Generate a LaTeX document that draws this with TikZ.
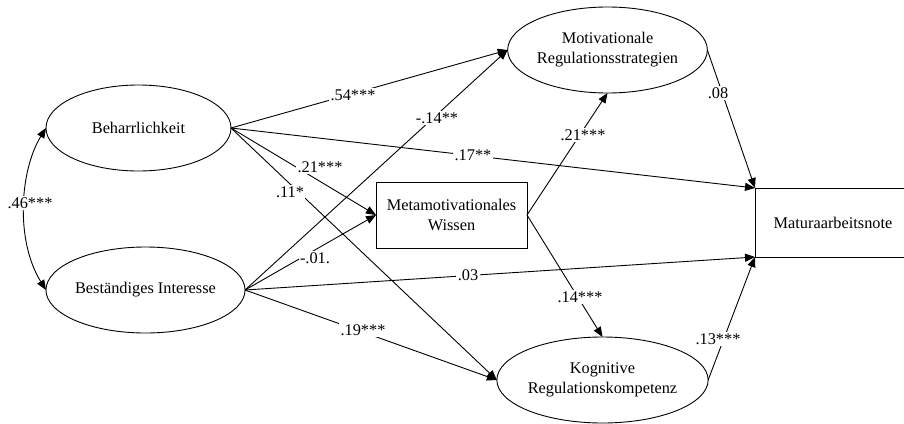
\documentclass[tikz,border=0pt]{standalone}
\usepackage{fontspec}
\setmainfont{Liberation Serif}
\usetikzlibrary{shapes.geometric,arrows.meta}
\begin{document}
\begin{tikzpicture}[x=1pt,y=-1pt,
  every node/.style={font=\fontsize{16.3}{20}\selectfont, outer sep=0pt},
  latent/.style={ellipse, draw, line width=0.9pt, minimum width=186pt, minimum height=86pt, align=center, inner sep=0pt},
  obs/.style={rectangle, draw, line width=0.9pt, align=center, inner sep=0pt},
  arr/.style={line width=0.9pt, -{Triangle[length=10pt,width=8pt]}},
  lab/.style={fill=white, inner sep=1.5pt}]
\useasboundingbox (0,0) rectangle (904,423);
\clip (0,0) rectangle (904,423);

\node[latent, minimum width=185pt] (beh) at (138.5,128) {Beharrlichkeit};
\node[latent, minimum width=187pt] (bi) at (145.5,290) {Beständiges Interesse};
\node[latent, minimum width=187pt] (mot) at (607.5,50) {Motivationale\\Regulationsstrategien};
\node[latent, minimum width=187pt] (kog) at (602.5,380) {Kognitive\\Regulationskompetenz};
\node[obs, minimum width=151pt, minimum height=66pt] (meta) at (451.5,215) {Metamotivationales\\Wissen};
\node[obs, minimum width=156pt, minimum height=69pt] (mat) at (833,222.5) {Maturaarbeitsnote};

\draw[arr] (beh.east) -- (mot.west);
\draw[arr] (beh.east) -- (mat.north west);
\draw[arr] (beh.east) -- (meta.west);
\draw[arr] (beh.east) -- (kog.west);
\draw[arr] (bi.east) -- (mot.west);
\draw[arr] (bi.east) -- (meta.west);
\draw[arr] (bi.east) -- (mat.south west);
\draw[arr] (bi.east) -- (kog.west);
\draw[arr] (meta.east) -- (mot.south);
\draw[arr] (meta.east) -- (kog.north);
\draw[arr] (mot.east) -- (mat.north west);
\draw[arr] (kog.east) -- (mat.south west);
\draw[line width=0.9pt, {Triangle[length=10pt,width=8pt]}-{Triangle[length=10pt,width=8pt]}]
  (beh.west) .. controls (20,170) and (15,240) .. (bi.west);

\node[lab] (l1) at (353,95) {.54***};
\node[lab] (l2) at (473,155) {.17**};
\node[lab] (l3) at (320,167) {.21***};
\node[lab] (l4) at (290,192) {.11*};
\node[lab] (l5) at (437,118) {-.14**};
\node[lab] (l6) at (315,258) {-.01.};
\node[lab] (l7) at (468,275) {.03};
\node[lab] (l8) at (363,330) {.19***};
\node[lab] (l9) at (583,135) {.21***};
\node[lab] (l10) at (580,297) {.14***};
\node[lab] (l11) at (718,93) {.08};
\node[lab] (l12) at (718,339) {.13***};
\node[lab] (l13) at (30,203) {.46***};
\end{tikzpicture}
\end{document}
